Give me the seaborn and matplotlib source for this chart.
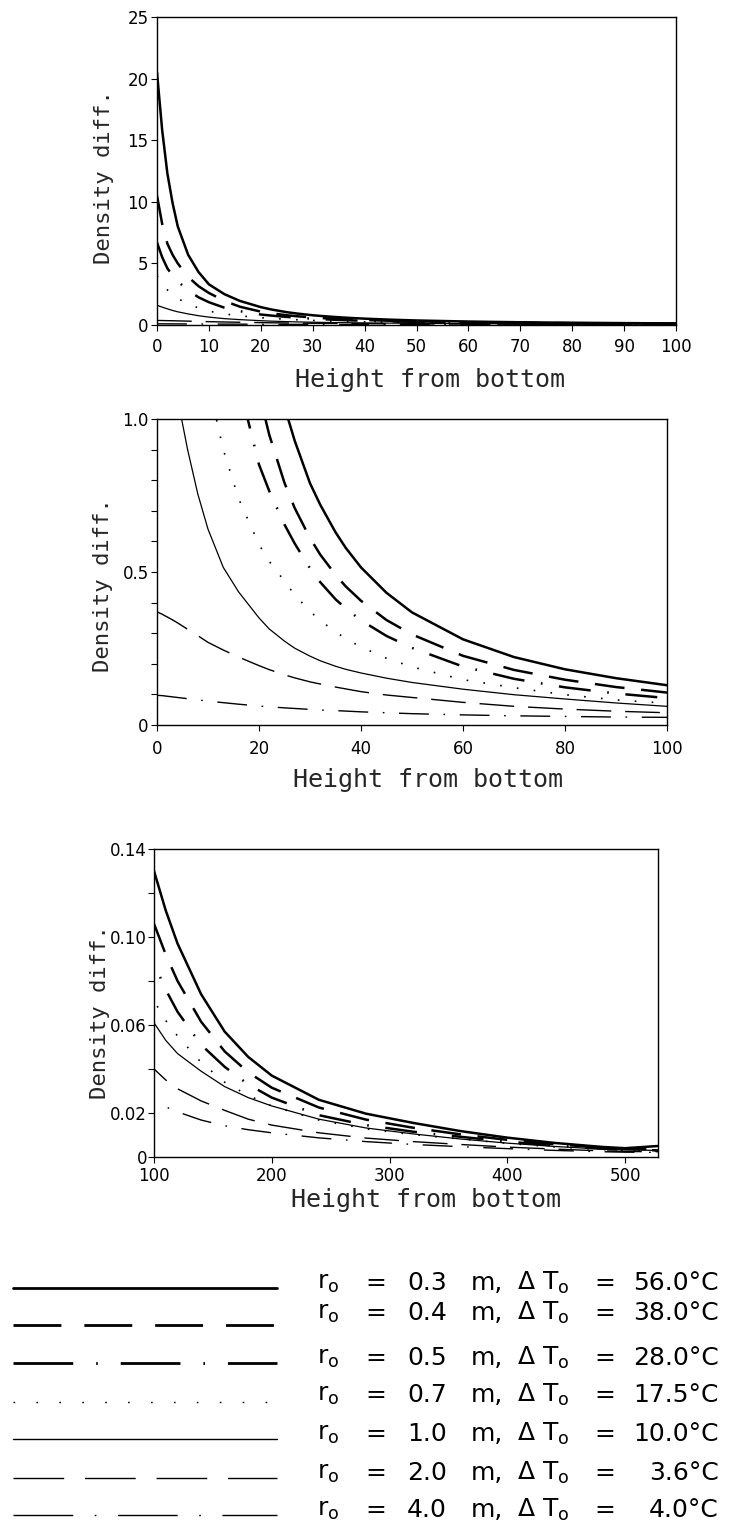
import matplotlib
matplotlib.use("Agg")
import matplotlib.pyplot as plt
from matplotlib.ticker import MultipleLocator
import pandas as pd
import seaborn as sns

# Heights (x) shared by all curves, and density difference per pipe radius
heights = [0, 1, 2, 3, 4, 6, 8, 10, 13, 16, 20, 22, 25, 27, 30, 32, 35, 37, 40, 45, 50, 60, 70, 80,
           90, 100, 110, 120, 140, 160, 180, 200, 240, 280, 320, 360, 400, 440, 480, 500, 528]

r03 = [20.5, 15.8, 12.3, 9.9, 8.0, 5.7, 4.3, 3.3, 2.5, 1.95, 1.45, 1.263, 1.04, 0.929, 0.79, 0.72,
       0.63, 0.579, 0.515, 0.432, 0.368, 0.28, 0.222, 0.182, 0.153, 0.13, 0.112, 0.097, 0.074,
       0.057, 0.0455, 0.037, 0.026, 0.0197, 0.0155, 0.0118, 0.0088, 0.0064, 0.0046, 0.004, 0.005]
r04 = [10.5, 8.2, 6.6, 5.7, 5.0, 3.9, 3.15, 2.6, 1.95, 1.48, 1.085, 0.949, 0.791, 0.709, 0.611,
       0.557, 0.491, 0.453, 0.406, 0.343, 0.296, 0.226, 0.18, 0.148, 0.124, 0.106, 0.092, 0.08,
       0.0615, 0.048, 0.0385, 0.0315, 0.0225, 0.017, 0.0133, 0.0103, 0.0078, 0.0058, 0.0043,
       0.0037, 0.0036]
r05 = [6.7, 5.5, 4.6, 4.0, 3.55, 2.8, 2.25, 1.85, 1.4, 1.12, 0.851, 0.765, 0.655, 0.593, 0.512,
       0.467, 0.411, 0.381, 0.342, 0.291, 0.252, 0.191, 0.151, 0.123, 0.103, 0.088, 0.076, 0.066,
       0.051, 0.041, 0.033, 0.027, 0.019, 0.0145, 0.0115, 0.0092, 0.007, 0.0052, 0.0038, 0.0033,
       0.003]
r07 = [4.0, 3.35, 2.85, 2.45, 2.15, 1.7, 1.38, 1.12, 0.90, 0.74, 0.59, 0.535, 0.47, 0.425, 0.372,
       0.341, 0.305, 0.282, 0.255, 0.218, 0.19, 0.148, 0.122, 0.099, 0.082, 0.071, 0.062, 0.055,
       0.043, 0.034, 0.028, 0.0232, 0.0168, 0.0128, 0.0102, 0.0082, 0.0062, 0.0046, 0.0034, 0.003,
       0.0028]
r10 = [1.6, 1.45, 1.31, 1.18, 1.07, 0.9, 0.755, 0.64, 0.515, 0.435, 0.35, 0.314, 0.274, 0.251,
       0.225, 0.21, 0.192, 0.182, 0.17, 0.153, 0.139, 0.117, 0.099, 0.085, 0.072, 0.061, 0.053,
       0.047, 0.039, 0.032, 0.027, 0.0232, 0.0172, 0.0132, 0.0105, 0.0082, 0.0063, 0.0048, 0.0036,
       0.0032, 0.003]
r20 = [0.37, 0.362, 0.353, 0.344, 0.334, 0.313, 0.292, 0.27, 0.245, 0.222, 0.194, 0.181, 0.164,
       0.154, 0.141, 0.134, 0.124, 0.118, 0.109, 0.098, 0.09, 0.074, 0.061, 0.052, 0.045, 0.04,
       0.035, 0.031, 0.0255, 0.0212, 0.0172, 0.0145, 0.011, 0.0086, 0.007, 0.0057, 0.0045, 0.0036,
       0.0028, 0.0025, 0.0024]
r40 = [0.097, 0.096, 0.094, 0.092, 0.09, 0.086, 0.082, 0.078, 0.073, 0.068, 0.062, 0.0595, 0.056,
       0.054, 0.051, 0.049, 0.047, 0.0455, 0.043, 0.04, 0.037, 0.033, 0.03, 0.028, 0.026, 0.025,
       0.0228, 0.0205, 0.0168, 0.0142, 0.0124, 0.011, 0.0087, 0.007, 0.0057, 0.0047, 0.0038, 0.003,
       0.0024, 0.0022, 0.0021]

radii = ['0.3', '0.4', '0.5', '0.7', '1.0', '2.0', '4.0']
delta_t = ['56.0°C', '38.0°C', '28.0°C', '17.5°C', '10.0°C', '3.6°C', '4.0°C']
bottom_ytick_labels = ['0', '0.02', '', '0.06', '', '0.10', '', '0.14']

series = [r03, r04, r05, r07, r10, r20, r40]
df = pd.DataFrame({
    'height': heights * len(series),
    'density': sum(series, []),
    'radius': [r for r in radii for _ in heights],
})

# line styles: (linewidth, dash pattern in points)
plot_styles = {
    '0.3': (1.8, None),
    '0.4': (1.8, (21.5, 12)),
    '0.5': (1.8, (23, 12, 1.2, 12)),
    '0.7': (1.2, (1.2, 11)),
    '1.0': (0.9, None),
    '2.0': (1.0, (25, 10)),
    '4.0': (1.0, (21.5, 10.5, 1.2, 10.5)),
}
key_styles = {
    '0.3': (2.0, None),
    '0.4': (2.0, (34.5, 16.5)),
    '0.5': (2.0, (43, 16.5, 1.2, 16.5)),
    '0.7': (1.0, (1.2, 15.3)),
    '1.0': (1.0, None),
    '2.0': (1.0, (36.5, 15)),
    '4.0': (1.0, (43, 15.5, 1.2, 15.5)),
}

sns.set_theme(style='ticks')
plt.rcParams['font.family'] = ['DejaVu Sans']
plt.rcParams['mathtext.default'] = 'regular'
plt.rcParams['lines.scale_dashes'] = False

W, H = 731, 1526
fig = plt.figure(figsize=(W / 100, H / 100), dpi=100)


def px_axes(left, right, top, bottom):
    return fig.add_axes([left / W, 1 - bottom / H, (right - left) / W, (bottom - top) / H])


ax_top = px_axes(157, 676, 17, 325)
ax_mid = px_axes(157, 667, 419, 725)
ax_bot = px_axes(154, 658, 849, 1157)

for ax in (ax_top, ax_mid, ax_bot):
    for r in radii:
        lw, dash = plot_styles[r]
        ls = '-' if dash is None else (0, dash)
        sns.lineplot(data=df[df['radius'] == r], x='height', y='density', ax=ax,
                     color='black', linewidth=lw, linestyle=ls, errorbar=None)
    for sp in ax.spines.values():
        sp.set_visible(True)
        sp.set_color('black')
        sp.set_linewidth(1.0)
    ax.tick_params(direction='out', length=4, width=0.8, colors='black', labelsize=12)
    ax.tick_params(which='minor', direction='out', length=4, width=0.8, colors='black')
    ax.set_xlabel('Height from bottom', fontfamily='DejaVu Sans Mono', fontsize=18)
    ax.set_ylabel('Density diff.', fontfamily='DejaVu Sans Mono', fontsize=16)
    ax.xaxis.label.set_verticalalignment('center')
    ax.yaxis.label.set_verticalalignment('center')

# top panel
ax_top.set_xlim(0, 100)
ax_top.set_ylim(0, 25)
ax_top.set_xticks(range(0, 101, 10))
ax_top.set_yticks(range(0, 26, 5))
ax_top.tick_params(axis='x', pad=5)
ax_top.tick_params(axis='y', pad=2)
ax_top.xaxis.set_label_coords(0.526, -0.179)
ax_top.yaxis.set_label_coords(-0.102, 0.48)

# middle panel
ax_mid.set_xlim(0, 100)
ax_mid.set_ylim(0, 1.0)
ax_mid.set_xticks(range(0, 101, 20))
ax_mid.set_yticks([0, 0.5, 1.0])
ax_mid.set_yticklabels(['0', '0.5', '1.0'])
ax_mid.yaxis.set_minor_locator(MultipleLocator(0.1))
ax_mid.tick_params(axis='x', pad=7)
ax_mid.tick_params(axis='y', pad=2)
ax_mid.xaxis.set_label_coords(0.531, -0.18)
ax_mid.yaxis.set_label_coords(-0.106, 0.457)

# bottom panel
ax_bot.set_xlim(100, 528)
ax_bot.set_ylim(0, 0.14)
ax_bot.set_xticks(range(100, 501, 100))
ax_bot.set_yticks([i * 0.02 for i in range(8)])
ax_bot.set_yticklabels(bottom_ytick_labels)
ax_bot.tick_params(axis='x', pad=3)
ax_bot.tick_params(axis='y', pad=1)
ax_bot.xaxis.set_label_coords(0.54, -0.14)
ax_bot.yaxis.set_label_coords(-0.107, 0.47)

# key at the bottom, laid out in pixel coordinates
lax = fig.add_axes([0, 0, 1, 1], zorder=-1)
lax.set_xlim(0, W)
lax.set_ylim(H, 0)
lax.axis('off')

line_y = [1288, 1325, 1363, 1402, 1439, 1478, 1515]
text_y = [1283, 1313, 1358, 1395, 1434, 1473, 1510]
tkw = dict(fontsize=18, color='black', va='center')
for r, dt, ly, ty in zip(radii, delta_t, line_y, text_y):
    lw, dash = key_styles[r]
    ls = '-' if dash is None else (0, dash)
    lax.plot([13, 277], [ly, ly], color='black', linewidth=lw, linestyle=ls)
    lax.text(317, ty, 'r$_o$', ha='left', **tkw)
    lax.text(376, ty, '=', ha='center', **tkw)
    lax.text(407, ty, r, ha='left', **tkw)
    lax.text(471, ty, 'm,', ha='left', **tkw)
    lax.text(517, ty, 'Δ T$_o$', ha='left', **tkw)
    lax.text(605, ty, '=', ha='center', **tkw)
    lax.text(719, ty, dt, ha='right', **tkw)

fig.savefig('out.png', dpi=100)
